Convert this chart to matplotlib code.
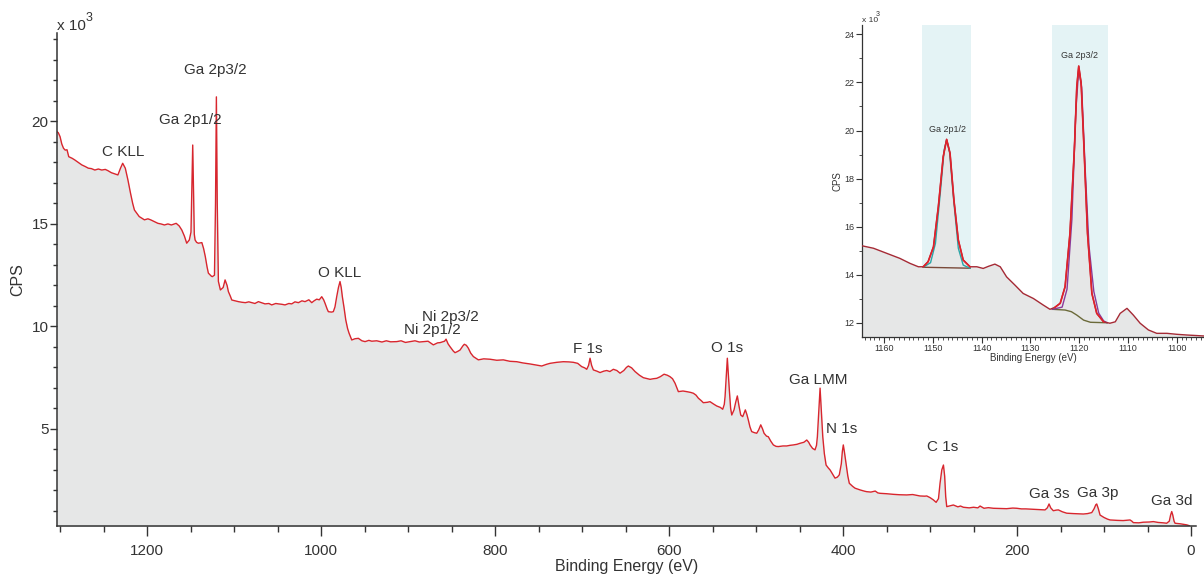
import matplotlib
matplotlib.use("Agg")
import matplotlib.pyplot as plt
from matplotlib.ticker import MultipleLocator

plt.rcParams['font.family'] = ['Liberation Sans', 'DejaVu Sans']

# ---------------- main survey spectrum (binding energy eV, CPS x10^3) -------------
energy = [1303.5, 1302, 1300, 1298, 1296, 1294, 1292, 1290, 1286, 1283, 1279, 1275, 1271, 1267.5, 1264,
          1260, 1256, 1252, 1248, 1245, 1241, 1237, 1233.5, 1230.5, 1228, 1225, 1222, 1219, 1216.5, 1214.5,
          1209, 1203, 1199, 1195.8, 1191, 1187.5, 1184, 1180, 1176, 1172, 1166.5, 1163, 1160, 1157, 1154.4,
          1151.4, 1149.5, 1148.3, 1147.5, 1146.7, 1145.7, 1144.8, 1143, 1141, 1137, 1135, 1133, 1131, 1129.5,
          1126, 1124.9, 1122.5, 1121.3, 1120.3, 1119.3, 1118, 1115.7, 1112.5, 1110.3, 1108, 1106.5, 1104,
          1102.6, 1099, 1095, 1091, 1087, 1083, 1079.7, 1076, 1072, 1068, 1064.4, 1060, 1056.7, 1052, 1049,
          1045, 1041.4, 1037, 1033.7, 1030, 1026, 1022, 1018.4, 1014, 1010.7, 1008, 1005, 1002, 999.2, 997,
          995.4, 993, 991.6, 988, 985.9, 984, 982, 980, 978.2, 976.8, 975.5, 973.5, 971.6, 969.5, 967.8,
          964.7, 961, 957.1, 953, 949.4, 945, 941.7, 936, 930, 925, 920, 913, 908, 903, 897.7, 892, 887,
          882.4, 877, 870.9, 866, 863.2, 858, 856.3, 854, 851.7, 848, 846, 843, 840.2, 837, 835.3, 833,
          830.7, 828, 824.9, 819.2, 813, 805.7, 798, 790.5, 783, 775, 768, 759.8, 753, 746.3, 741, 736.8,
          729, 721.5, 715, 710, 705, 700.4, 697, 694.6, 692.5, 690.8, 689, 687, 683, 679.3, 675, 671.6, 668,
          664, 660, 656.3, 652, 649, 646.8, 643, 639.1, 634, 629.5, 621.8, 618, 614.1, 610, 605.7, 602,
          598.9, 596, 593.1, 591, 589.3, 584, 579.7, 575, 572, 569, 566.3, 563, 560.6, 556, 552.9, 549,
          545.2, 541, 538.3, 536.5, 535.6, 534.2, 533, 531.8, 530.7, 529.2, 527.9, 525.3, 523.4, 521.5,
          519.5, 517.6, 515.3, 512.3, 510.5, 508.9, 507, 505, 502, 499.2, 497, 494.6, 492.5, 490.8, 488,
          485.9, 483, 480.1, 477, 474.4, 469, 464.7, 461, 457.1, 453, 449.4, 445, 441.7, 439.5, 437.9, 435,
          432.2, 430.5, 429.5, 428, 426.4, 425, 423.3, 421.5, 419.5, 417, 414.9, 412, 409.2, 406.5, 404.3,
          402, 400.8, 399.7, 398.5, 396.6, 394.5, 392.8, 389, 386.2, 380, 375, 372.8, 368, 363, 360, 357.5,
          350, 342.2, 335, 326.8, 320, 311.5, 306, 303.8, 300, 296.2, 293, 290.3, 288.5, 286.5, 284.6,
          283.2, 282, 280.8, 277, 273.2, 268, 265, 261.7, 255, 250, 245, 242.5, 238, 233, 227.2, 220, 212,
          205, 200.3, 195, 190, 181.3, 175, 167.8, 165.2, 163.2, 161.3, 158.3, 155, 152.5, 148, 142.9, 135,
          128, 123.8, 119, 114.1, 111.5, 109.5, 108.4, 106.5, 104.6, 100, 96, 93.1, 85, 78, 72, 70.1, 68,
          66.3, 60, 55, 48, 43.3, 38, 32, 28, 25, 23.5, 22.2, 21, 19.5, 18.4, 12, 8, 4.9, 2]
cps = [19.5, 19.45, 19.26, 18.9, 18.69, 18.6, 18.62, 18.28, 18.2, 18.12, 18.0, 17.88, 17.8, 17.72, 17.7,
       17.63, 17.68, 17.63, 17.66, 17.6, 17.5, 17.44, 17.39, 17.72, 17.96, 17.72, 17.15, 16.5, 16.0, 15.68,
       15.36, 15.2, 15.25, 15.2, 15.1, 15.03, 15.0, 14.95, 15.0, 14.95, 15.03, 14.9, 14.7, 14.4, 14.06,
       14.22, 14.6, 17.0, 18.85, 17.0, 14.5, 14.22, 14.1, 14.06, 14.09, 13.8, 13.4, 12.9, 12.6,
       12.45, 12.43, 12.5, 16.0, 21.2, 16.0, 12.2, 11.78, 11.9, 12.27, 12.0, 11.7, 11.45,
       11.29, 11.25, 11.21, 11.18, 11.16, 11.2, 11.16, 11.12, 11.21, 11.15, 11.1, 11.12, 11.05, 11.12, 11.1,
       11.08, 11.05, 11.12, 11.1, 11.2, 11.16, 11.25, 11.21, 11.3, 11.16, 11.25, 11.33, 11.3, 11.45, 11.3,
       11.13, 10.85, 10.72, 10.7, 10.72, 10.95, 11.45, 11.9, 12.19, 11.9, 11.45, 10.9, 10.32, 9.9, 9.67,
       9.34, 9.4, 9.42, 9.3, 9.26, 9.32, 9.28, 9.3, 9.24, 9.3, 9.25, 9.26, 9.3, 9.22, 9.26, 9.3, 9.24,
       9.26, 9.28, 9.1, 9.2, 9.21, 9.28, 9.38, 9.15, 9.01, 8.8, 8.72, 8.78, 8.85, 9.05, 9.13, 9.08,
       8.94, 8.7, 8.53, 8.37, 8.42, 8.4, 8.35, 8.37, 8.3, 8.28, 8.22, 8.17, 8.12, 8.07, 8.15, 8.2,
       8.25, 8.28, 8.27, 8.25, 8.2, 8.04, 7.98, 7.91, 8.1, 8.45, 8.1, 7.88, 7.82, 7.75, 7.82, 7.85, 7.8,
       7.91, 7.85, 7.72, 7.85, 8.0, 8.07, 7.98, 7.8, 7.62, 7.5, 7.42, 7.45, 7.47, 7.55, 7.67, 7.62,
       7.55, 7.45, 7.23, 7.0, 6.82, 6.85, 6.82, 6.78, 6.74, 6.65, 6.5, 6.38, 6.28, 6.3, 6.33, 6.22,
       6.12, 6.05, 5.96, 6.2, 6.58, 7.6, 8.45, 7.6, 6.9, 6.0, 5.68, 5.93, 6.3, 6.61,
       6.1, 5.68, 5.6, 5.93, 5.7, 5.44, 5.1, 4.87, 4.82, 4.79, 4.95, 5.2, 5.0, 4.79, 4.65,
       4.62, 4.4, 4.22, 4.15, 4.14, 4.17, 4.17, 4.2, 4.22, 4.25, 4.3, 4.35, 4.46, 4.35, 4.22, 4.05,
       3.98, 4.2, 4.62, 5.8, 6.99, 5.9, 4.62, 3.8, 3.24, 3.1, 3.0, 2.8, 2.6, 2.65, 2.76,
       3.3, 3.9, 4.22, 3.9, 3.33, 2.7, 2.35, 2.2, 2.11, 2.02, 1.96, 1.94, 1.92, 1.97, 1.88, 1.86,
       1.84, 1.81, 1.79, 1.78, 1.8, 1.73, 1.72, 1.73, 1.65, 1.54, 1.42, 1.6, 2.35, 3.0, 3.24,
       2.7, 1.7, 1.21, 1.25, 1.29, 1.2, 1.24, 1.18, 1.15, 1.18, 1.15, 1.24, 1.13, 1.16, 1.13, 1.12, 1.11,
       1.14, 1.13, 1.1, 1.1, 1.08, 1.07, 1.05, 1.15, 1.34, 1.15, 1.01, 1.04, 1.05, 0.96, 0.89, 0.87,
       0.86, 0.85, 0.87, 0.92, 1.1, 1.3, 1.34, 1.1, 0.8, 0.68, 0.6, 0.56, 0.54, 0.53, 0.55, 0.56, 0.5,
       0.43, 0.42, 0.45, 0.46, 0.48, 0.44, 0.42, 0.4, 0.5, 0.8, 0.97, 0.8, 0.5, 0.4, 0.37, 0.34, 0.32, 0.28]

peak_labels = ['Ga 2p3/2', 'Ga 2p1/2', 'C KLL', 'O KLL', 'Ni 2p3/2', 'Ni 2p1/2', 'F 1s', 'O 1s',
               'Ga LMM', 'N 1s', 'C 1s', 'Ga 3s', 'Ga 3p', 'Ga 3d']
label_x = [1121.8, 1150.6, 1227.6, 978.2, 851.7, 872.4, 693.1, 533.3, 428.7, 401.1, 285.1, 163.2, 106.9, 21.8]
label_y = [22.51, 20.07, 18.51, 12.61, 10.46, 9.83, 8.9, 8.95, 7.39, 5.0, 4.12, 1.83, 1.88, 1.49]

# ---------------- inset: Ga 2p high-resolution region ----------------
in_energy = [1164.5, 1162.2, 1159.5, 1156.8, 1154.7, 1153, 1152, 1151, 1149.9, 1148.9, 1147.9, 1147.2,
             1146.5, 1145.7, 1144.8, 1143.8, 1142.4, 1141, 1139.7, 1138.6, 1137.3, 1136.2, 1134.9, 1133.2,
             1131.5, 1129.4, 1127.4, 1126, 1125, 1123.9, 1122.9, 1121.9, 1121, 1120.5, 1120.1, 1119.6,
             1119, 1118.3, 1117.4, 1116.4, 1115, 1113.7, 1112.6, 1111.6, 1110.2, 1108.9, 1107.5, 1105.8,
             1104.1, 1102, 1100, 1097.9, 1094.4]
in_cps = [15.2, 15.1, 14.89, 14.68, 14.47, 14.33, 14.33, 14.54, 15.16, 16.83, 18.91, 19.63,
          19.05, 17.1, 15.44, 14.61, 14.33, 14.33, 14.26, 14.35, 14.44, 14.33, 13.91, 13.57,
          13.22, 13.01, 12.74, 12.56, 12.64, 12.81, 13.5, 15.72, 19.19, 21.82, 22.68, 21.96,
          19.19, 15.72, 13.22, 12.39, 12.04, 11.98, 12.04, 12.39, 12.6, 12.32, 11.98, 11.7,
          11.56, 11.56, 11.52, 11.49, 11.45]

bg1_energy = [1152, 1142.4]
bg1_cps = [14.31, 14.27]
bg2_energy = [1125.5, 1122.9, 1121.6, 1120.5, 1119.1, 1117.7, 1114.3]
bg2_cps = [12.56, 12.53, 12.46, 12.32, 12.11, 12.02, 12.0]

fit1_energy = [1152, 1150.5, 1149.5, 1148.5, 1147.7, 1147.2, 1146.6, 1145.8, 1144.8, 1143.8, 1142.4]
fit1_cps = [14.31, 14.5, 15.3, 17.4, 19.2, 19.6, 19.1, 17.2, 15.1, 14.4, 14.27]
fit2_energy = [1125.5, 1123.5, 1122.5, 1121.5, 1120.7, 1120.1, 1119.5, 1118.8, 1118, 1117, 1116, 1115, 1114.3]
fit2_cps = [12.56, 12.65, 13.4, 16.3, 20.8, 22.55, 21.8, 18.5, 15.2, 13.3, 12.4, 12.08, 12.0]

span_ranges = [(1152.2, 1142.2), (1125.6, 1114.1)]
inset_labels = ['Ga 2p1/2', 'Ga 2p3/2']
inset_label_x = [1147.0, 1119.9]
inset_label_y = [20.06, 23.14]

# ---------------- styling ----------------
RED = '#d8262e'
FILL = '#e6e7e7'
DARK = '#333333'

fig = plt.figure(figsize=(12.04, 5.76), dpi=100)
W, H = 1204, 576

ax = fig.add_axes([57 / W, 1 - 525.7 / H, (1196 - 57) / W, (525.7 - 33.3) / H])
ax.fill_between(energy, 0, cps, color=FILL, lw=0, zorder=1)
ax.plot(energy, cps, color=RED, lw=1.0, zorder=2)
ax.set_xlim(1303.5, -5.7)
ax.set_ylim(0.28, 24.3)
for s in ['top', 'right']:
    ax.spines[s].set_visible(False)
for s in ['left', 'bottom']:
    ax.spines[s].set_color(DARK)
    ax.spines[s].set_linewidth(1.1)
ax.xaxis.set_major_locator(MultipleLocator(200))
ax.xaxis.set_minor_locator(MultipleLocator(50))
ax.yaxis.set_major_locator(MultipleLocator(5))
ax.yaxis.set_minor_locator(MultipleLocator(1))
ax.set_yticks([5, 10, 15, 20])
ax.set_yticklabels(['5', '10', '15', '20'])
ax.tick_params(axis='x', which='major', direction='out', length=7, width=1, color=DARK,
               labelsize=11, labelcolor=DARK, pad=6)
ax.tick_params(axis='x', which='minor', direction='out', length=4.3, width=1, color=DARK)
ax.tick_params(axis='y', which='major', direction='out', length=5, width=1, color=DARK,
               labelsize=11, labelcolor=DARK, pad=1)
ax.tick_params(axis='y', which='minor', direction='out', length=3, width=1, color=DARK)
ax.set_xlabel('Binding Energy (eV)', fontsize=11.5, color=DARK, labelpad=1)
fig.text(18 / W, 1 - 280 / H, 'CPS', rotation=90, ha='center', va='center', fontsize=11.5, color=DARK)
fig.text(57 / W, 1 - 26 / H, 'x 10', ha='left', va='center', fontsize=11, color=DARK)
fig.text(86 / W, 1 - 18 / H, '3', ha='left', va='center', fontsize=9, color=DARK)

for t, x, y in zip(peak_labels, label_x, label_y):
    ax.text(x, y, t, ha='center', va='center', fontsize=11, color=DARK, zorder=3)

# ---------------- inset ----------------
ia = fig.add_axes([862.3 / W, 1 - 336.7 / H, (1204 - 862.3) / W, (336.7 - 25) / H])
for lo, hi in span_ranges:
    ia.axvspan(lo, hi, color='#e4f3f5', lw=0, zorder=0)
ia.fill_between(in_energy, 0, in_cps, color=FILL, lw=0, zorder=1)
ia.plot(bg1_energy, bg1_cps, color='#7a4a3a', lw=1.0, zorder=2)
ia.plot(bg2_energy, bg2_cps, color='#6b6a3a', lw=1.0, zorder=2)
ia.plot(fit1_energy, fit1_cps, color='#2aa6a8', lw=1.0, zorder=3)
ia.plot(fit2_energy, fit2_cps, color='#8a3a9a', lw=1.0, zorder=3)
ia.plot(in_energy, in_cps, color='#a52a35', lw=1.0, zorder=4)
for lo, hi in span_ranges:
    sel = [(e, c) for e, c in zip(in_energy, in_cps) if hi <= e <= lo]
    ia.plot([p[0] for p in sel], [p[1] for p in sel], color='#e0222c', lw=1.2, zorder=5)
ia.set_xlim(1164.5, 1094.4)
ia.set_ylim(11.42, 24.39)
ia.set_facecolor('none')
for s in ['top', 'right']:
    ia.spines[s].set_visible(False)
for s in ['left', 'bottom']:
    ia.spines[s].set_color(DARK)
    ia.spines[s].set_linewidth(0.9)
ia.xaxis.set_major_locator(MultipleLocator(10))
ia.xaxis.set_minor_locator(MultipleLocator(1))
ia.yaxis.set_major_locator(MultipleLocator(2))
ia.yaxis.set_minor_locator(MultipleLocator(1))
ia.tick_params(axis='both', which='major', direction='out', length=4, width=0.8, color=DARK,
               labelsize=6.5, labelcolor=DARK, pad=1.5)
ia.tick_params(axis='both', which='minor', direction='out', length=2, width=0.6, color=DARK)
ia.set_xlabel('Binding Energy (eV)', fontsize=7, color=DARK, labelpad=0)
fig.text(838 / W, 1 - 181 / H, 'CPS', rotation=90, ha='center', va='center', fontsize=7, color=DARK)
fig.text(862 / W, 1 - 20 / H, 'x 10', ha='left', va='center', fontsize=6, color=DARK)
fig.text(876 / W, 1 - 15 / H, '3', ha='left', va='center', fontsize=5, color=DARK)
for t, x, y in zip(inset_labels, inset_label_x, inset_label_y):
    ia.text(x, y, t, ha='center', va='center', fontsize=6.5, color=DARK, zorder=6)

fig.savefig('out.png', dpi=100)
